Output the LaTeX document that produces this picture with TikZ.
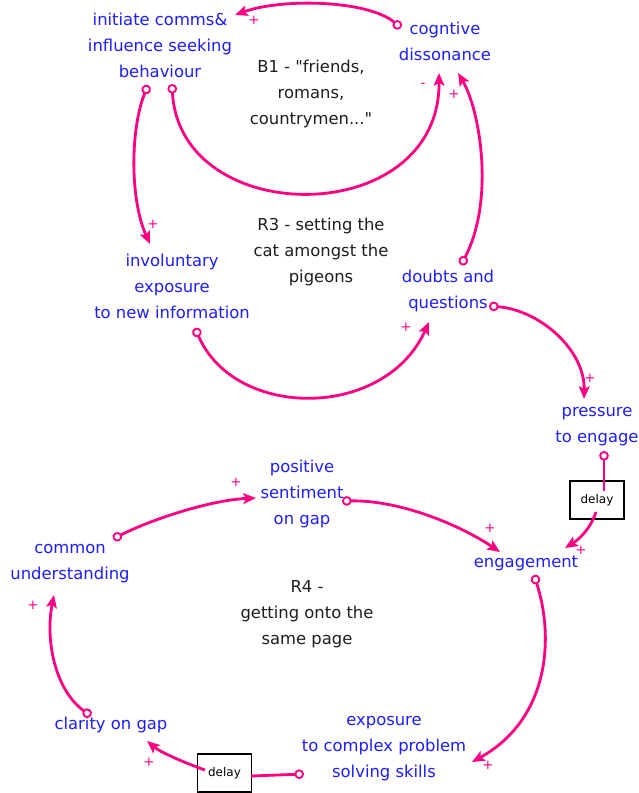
\documentclass[tikz,border=0pt]{standalone}
\usepackage{fontspec}
\setmainfont{DejaVu Sans}
\usetikzlibrary{arrows.meta,calc}

\definecolor{linkpink}{RGB}{255,0,128}
\definecolor{varblue}{RGB}{30,30,255}
\definecolor{loopink}{RGB}{30,30,30}

% strut giving every first line the same height and every last line the same depth
\newcommand\linestrut{\rule[-3pt]{0pt}{12pt}}
% straight double quote, set as a glyph so the TeX ligature mapping leaves it alone
\newcommand\straightdq{\XeTeXglyph\XeTeXcharglyph"22\relax}

\tikzset{
  varname/.style={text=varblue, align=center, inner sep=2pt,
    font=\fontsize{12.3}{19.5}\selectfont,
    execute at begin node=\linestrut, execute at end node=\linestrut},
  looplabel/.style={varname, text=loopink},
  pol/.style={text=linkpink, inner sep=0pt, font=\fontsize{10}{11}\selectfont},
  delaybox/.style={draw=black, line width=0.9pt, fill=white, inner sep=0pt,
    minimum width=40.5pt, minimum height=28.5pt, font=\fontsize{9}{10}\selectfont},
  tail/.tip={Circle[open,length=7.2pt,width=7.2pt,line width=1.4pt]},
  head/.tip={Stealth[length=9.5pt,width=8pt,inset=2pt]},
  link/.style={draw=linkpink, line width=2.1pt, arrows={tail-head}},
  linkout/.style={draw=linkpink, line width=2.1pt, arrows={tail-}},
  linkin/.style={draw=linkpink, line width=2.1pt, arrows={-head}},
}

\begin{document}
\begin{tikzpicture}[x=0.75pt,y=-0.75pt]
\useasboundingbox (0,0) rectangle (639,793);
\fill[white] (0,0) rectangle (639,793);

% variables
\node[varname] (init) at (160,47) {initiate comms\&\\influence seeking\\behaviour};
\node[varname] (cd)   at (445,43) {cogntive\\dissonance};
\node[varname] (inv)  at (172,288) {involuntary\\exposure\\to new information};
\node[varname] (dq)   at (448,291) {doubts and\\questions};
\node[varname] (pte)  at (597,427) {pressure\\to engage};
\node[varname] (pos)  at (302,494) {positive\\sentiment\\on gap};
\node[varname] (cu)   at (70,564) {common\\understanding};
\node[varname] (eng)  at (526,563) {engagement};
\node[varname] (cog)  at (111,725) {clarity on gap};
\node[varname] (exp)  at (384,749) {exposure\\to complex problem\\solving skills};

% loop names
\node[looplabel] (b1) at (311,94) {B1 - \straightdq friends,\\romans,\\countrymen...\straightdq};
\node[looplabel] (r3) at (321,252) {R3 - setting the\\cat amongst the\\pigeons};
\node[looplabel] (r4) at (307,615) {R4 -\\getting onto the\\same page};

% delays
\node[delaybox] (d1) at (597,500) {delay};
\node[delaybox] (d2) at (224.5,773) {delay};

% B1 / R3 links
\draw[link] ($(cd)+(-44,-15)$) .. controls +(-33,-28) and +(47,-17) .. ($(init)+(75,-32)$);
\draw[link] ($(init)+(12,37)$) .. controls +(8,146) and +(1,157) .. ($(cd)+(-6,30)$);
\draw[link] ($(init)+(-12,38)$) .. controls +(-18,45) and +(-20,-44) .. ($(inv)+(-22,-44)$);
\draw[link] ($(inv)+(23,40)$) .. controls +(40,92) and +(-44,98) .. ($(dq)+(-19,31)$);
\draw[link] ($(dq)+(13,-26)$) .. controls +(34,-65) and +(22,37) .. ($(cd)+(13,30)$);
\draw[link] ($(dq)+(41,15)$) .. controls +(51,4) and +(1,-49) .. ($(pte)+(-13,-28)$);

% pressure to engage through a delay
\draw[linkout] ($(pte)+(7,24)$) -- ($(d1)+(7,-9)$);
\draw[linkin] ($(d1)+(-1,12)$) .. controls +(-6,18) and +(13,-8) .. ($(eng)+(39,-15)$);

% R4 links
\draw[link] ($(cu)+(43,-25)$) .. controls +(37,-19) and +(-46,2) .. ($(pos)+(-46,4)$);
\draw[link] ($(pos)+(40,7)$) .. controls +(58,-1) and +(-40,-27) .. ($(eng)+(-26,-11)$);
\draw[link] ($(eng)+(8,12)$) .. controls +(21,65) and +(76,-42) .. ($(exp)+(88,13)$);
\draw[linkout] ($(exp)+(-80,25)$) -- ($(d2)+(26.5,3)$);
\draw[linkin] ($(d2)+(-19.5,-3)$) .. controls +(-20,-7) and +(13,11) .. ($(cog)+(36,16)$);
\draw[link] ($(cog)+(-20,-9)$) .. controls +(-36,-26) and +(-9,45) .. ($(cu)+(-16,31)$);

% link polarities
\node[pol] (s1)  at (254,20)  {+};
\node[pol] (s2)  at (423,85)  {-};
\node[pol] (s3)  at (153,224) {+};
\node[pol] (s4)  at (406,327) {+};
\node[pol] (s5)  at (454,94)  {+};
\node[pol] (s6)  at (590,378) {+};
\node[pol] (s7)  at (581,550) {+};
\node[pol] (s8)  at (236,482) {+};
\node[pol] (s9)  at (490,528) {+};
\node[pol] (s10) at (488,765) {+};
\node[pol] (s11) at (149,762) {+};
\node[pol] (s12) at (33,605)  {+};
\end{tikzpicture}
\end{document}
